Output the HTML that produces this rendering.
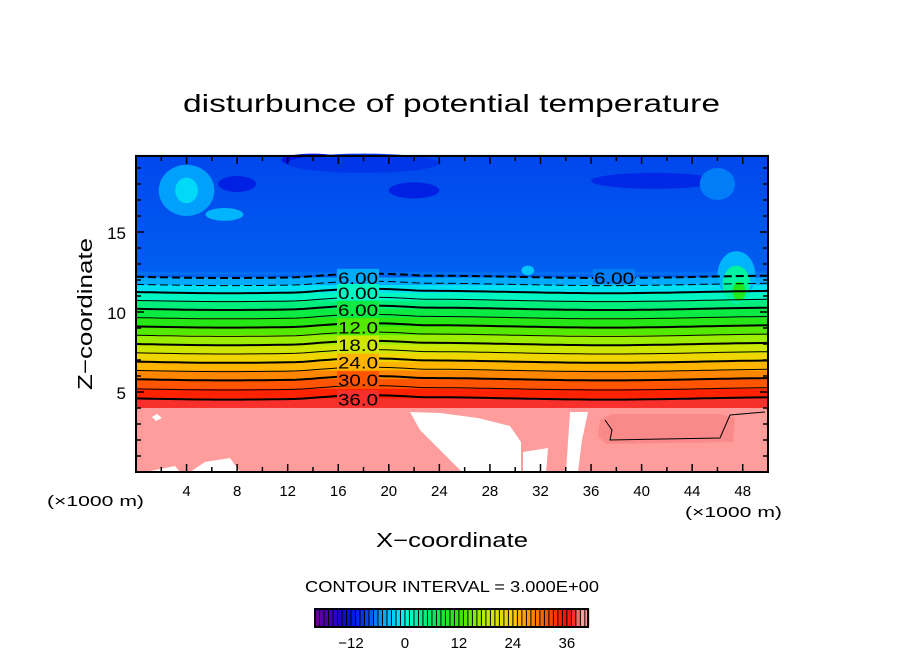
<!DOCTYPE html>
<html><head><meta charset="utf-8"><style>
body{margin:0;background:#fff;}
svg{display:block;font-family:"Liberation Sans",sans-serif;}
</style></head><body>
<svg id="chart" width="904" height="654" xmlns="http://www.w3.org/2000/svg">
<rect width="904" height="654" fill="#fff"/>
<text x="183" y="112" font-size="25" textLength="537" lengthAdjust="spacingAndGlyphs">disturbunce of potential temperature</text>
<g id="field"></g>
<g id="blobs"></g>
<g id="contours"></g>
<g id="axes"></g>
<text transform="translate(92,314) rotate(-90)" font-size="20" text-anchor="middle" textLength="152" lengthAdjust="spacingAndGlyphs">Z−coordinate</text>
<text x="376" y="547" font-size="20" textLength="152" lengthAdjust="spacingAndGlyphs">X−coordinate</text>
<text x="47" y="506" font-size="15" textLength="97" lengthAdjust="spacingAndGlyphs">(×1000 m)</text>
<text x="685" y="517" font-size="15" textLength="97" lengthAdjust="spacingAndGlyphs">(×1000 m)</text>
<text x="305" y="592" font-size="16" textLength="294" lengthAdjust="spacingAndGlyphs">CONTOUR INTERVAL = 3.000E+00</text>
<g id="cbar"></g>
</svg>
<script>
// profile of theta' versus height (km)
const profileZ = [0, 3.9, 4.6, 5.8, 6.9, 8.0, 9.1, 10.2, 11.25, 12.2, 12.6, 16.0, 19.75];
const profileV = [40, 39.5, 36, 30, 24, 18, 12, 6, 0, -6, -7.5, -8, -8.5];
const contourLevels = [-6,-3,0,3,6,9,12,15,18,21,24,27,30,33,36];
const labelLevels = [-6,0,6,12,18,24,30,36];
const labelTexts = ["6.00","0.00","6.00","12.0","18.0","24.0","30.0","36.0"];
const xTicks = [4,8,12,16,20,24,28,32,36,40,44,48];
const yTicks = [5,10,15];
const cbarTicks = [-12,0,12,24,36];

const NS="http://www.w3.org/2000/svg";
const X0=136,X1=768,Y0=472,Y1=156,XMAX=50,ZMAX=19.75;
const xs=v=>X0+v/XMAX*(X1-X0);
const ys=z=>Y0-z/ZMAX*(Y0-Y1);
function mk(tag,attrs,parent){const e=document.createElementNS(NS,tag);for(const k in attrs)e.setAttribute(k,attrs[k]);parent.appendChild(e);return e;}
function interpV(z){for(let i=0;i<profileZ.length-1;i++){if(z<=profileZ[i+1]){const t=(z-profileZ[i])/(profileZ[i+1]-profileZ[i]);return profileV[i]+t*(profileV[i+1]-profileV[i]);}}return profileV[profileV.length-1];}
function interpZ(v){for(let i=0;i<profileV.length-1;i++){const a=profileV[i],b=profileV[i+1];if((v<=a&&v>=b)){const t=(v-a)/(b-a);return profileZ[i]+t*(profileZ[i+1]-profileZ[i]);}}return null;}
const stops=[[-20,[110,0,150]],[-15,[40,0,200]],[-12,[0,20,225]],[-9,[0,60,235]],[-7.5,[0,95,240]],[-6,[0,140,250]],[-3,[0,200,255]],[0,[0,250,230]],[6,[0,235,90]],[12,[50,230,0]],[18,[190,240,0]],[24,[255,205,0]],[30,[255,110,0]],[36,[255,10,0]],[38,[245,60,60]],[39,[255,155,155]],[42,[255,160,160]]];
function col(v){v=Math.floor(v/3)*3+1.5;if(v>=39)return "rgb(255,157,157)";for(let i=0;i<stops.length-1;i++){if(v<=stops[i+1][0]){const t=Math.max(0,(v-stops[i][0])/(stops[i+1][0]-stops[i][0]));const c=stops[i][1].map((a,j)=>Math.round(a+t*(stops[i+1][1][j]-a)));return `rgb(${c})`;}}return "rgb(255,160,160)";}
function colS(v){if(v>=39)return "rgb(255,157,157)";for(let i=0;i<stops.length-1;i++){if(v<=stops[i+1][0]){const t=Math.max(0,(v-stops[i][0])/(stops[i+1][0]-stops[i][0]));const c=stops[i][1].map((a,j)=>Math.round(a+t*(stops[i+1][1][j]-a)));return `rgb(${c})`;}}return "rgb(255,160,160)";}

const field=document.getElementById('field');
for(let z=0;z<ZMAX;z+=0.06){
  const v=interpV(z+0.03);
  const r=mk('rect',{x:X0,y:ys(z+0.06)-0.3,width:X1-X0,height:(Y0-Y1)*0.06/ZMAX+0.6,fill:v<-6.5?colS(v):col(v)},field);
  
  
}
const blobs=document.getElementById('blobs');
const anomalies=[[4,17.6,2.2,1.6,-5],[4,17.6,0.9,0.8,-2],[8,18,1.5,0.5,-11],[14,19.5,2.5,0.4,-12],[22,17.6,2,0.5,-11],[41,18.2,5,0.5,-10.5],[7,16.1,1.5,0.4,-4],[31,12.6,0.5,0.3,-3],[47.5,12.3,1.5,1.5,-4],[47.5,11.7,1.1,1.2,3],[47.7,11.3,0.5,0.6,10],[46,18,1.4,1,-6.5],[18,19.3,6,0.6,-9.5]];
anomalies.forEach(a=>{const e=mk('ellipse',{cx:xs(a[0]),cy:ys(a[1]),rx:a[2]/XMAX*(X1-X0),ry:a[3]/ZMAX*(Y0-Y1),fill:colS(a[4])},blobs);
});
// white (undefined) regions and lower pink patch
const whites=["410,412 440,413 478,418 510,426 521,442 521,472 462,472 442,452 420,430","523,452 548,448 546,472 523,472","570,412 588,412 582,440 578,472 566,472","205,462 230,458 240,472 190,472","145,472 175,466 180,472","157,414 162,418 156,421 152,417"];
whites.forEach(p=>{const e=mk('polygon',{points:p,fill:"#fff"},blobs);});
const dp=mk('path',{d:"M600,420 L612,414 L720,414 L735,418 L733,442 L606,444 L598,436 Z",fill:"rgb(250,138,138)",stroke:"none"},blobs);

const dp2=mk('path',{d:"M605,420 L612,430 L610,440 L720,438 L730,415 L765,412",fill:"none",stroke:"#000","stroke-width":1},blobs);


const cont=document.getElementById('contours');
contourLevels.forEach(v=>{
  const z=interpZ(v);if(z===null)return;
  const y=ys(z);let d="";
  for(let px=X0;px<=X1;px+=8){const w=Math.sin((px-X0)/60)*1.2+(px>300&&px<420?-2.5*Math.sin((px-300)/120*Math.PI):0);d+=(px===X0?"M":"L")+px+","+(y+w).toFixed(1)+" ";}
  const thick=(v%6===0);
  const p=mk('path',{d:d,fill:"none",stroke:"#000","stroke-width":thick?2:1,"stroke-dasharray":v<0?"8,4":"none"},cont);
  
});
labelLevels.forEach((v,i)=>{
  const y=ys(interpZ(v));
  const bg=mk('rect',{x:337,y:y-8,width:42,height:15,fill:col(v+0.5)},cont);
  
  const t=mk('text',{x:338,y:y+7,"font-size":17,textLength:40,lengthAdjust:"spacingAndGlyphs"},cont);t.textContent=labelTexts[i];
  
});
const yr=ys(interpZ(-6));
const bg2=mk('rect',{x:593,y:yr-8,width:42,height:15,fill:colS(-6.5)},cont);

const t2=mk('text',{x:594,y:yr+7,"font-size":17,textLength:40,lengthAdjust:"spacingAndGlyphs"},cont);t2.textContent="6.00";


const ax=document.getElementById('axes');
const fr=mk('rect',{x:X0,y:Y1,width:X1-X0,height:Y0-Y1,fill:"none",stroke:"#000","stroke-width":2},ax);

for(let v=2;v<XMAX;v+=2){const big=v%4===0;const L=big?8:5;
  const a=mk('line',{x1:xs(v),x2:xs(v),y1:Y0,y2:Y0-L,stroke:"#000","stroke-width":1.5},ax);
  const b=mk('line',{x1:xs(v),x2:xs(v),y1:Y1,y2:Y1+L,stroke:"#000","stroke-width":1.5},ax);}
xTicks.forEach(v=>{const t=mk('text',{x:xs(v),y:496,"font-size":15,"text-anchor":"middle"},ax);t.textContent=v;});
for(let z=1;z<ZMAX;z+=1){const big=z%5===0;const L=big?8:5;
  const a=mk('line',{x1:X0,x2:X0+L,y1:ys(z),y2:ys(z),stroke:"#000","stroke-width":1.5},ax);
  const b=mk('line',{x1:X1,x2:X1-L,y1:ys(z),y2:ys(z),stroke:"#000","stroke-width":1.5},ax);}
yTicks.forEach(z=>{const t=mk('text',{x:126,y:ys(z)+7,"font-size":17,"text-anchor":"end"},ax);t.textContent=z;});

const cb=document.getElementById('cbar');
const CB0=315,CB1=588,CV0=-20,CV1=40.7;const cx=v=>CB0+(v-CV0)/(CV1-CV0)*(CB1-CB0);
for(let v=CV0;v<CV1;v+=1){const r=mk('rect',{x:cx(v),y:609,width:cx(v+1)-cx(v)+0.2,height:18,fill:colS(v+0.5)},cb);
  const l=mk('line',{x1:cx(v),x2:cx(v),y1:609,y2:627,stroke:"#000","stroke-width":1},cb);}
const cbf=mk('rect',{x:CB0,y:609,width:CB1-CB0,height:18,fill:"none",stroke:"#000","stroke-width":2},cb);
cbarTicks.forEach(v=>{const t=mk('text',{x:cx(v),y:648,"font-size":15,"text-anchor":"middle"},cb);t.textContent=v<0?"−"+(-v):v;});
</script>
</body></html>
